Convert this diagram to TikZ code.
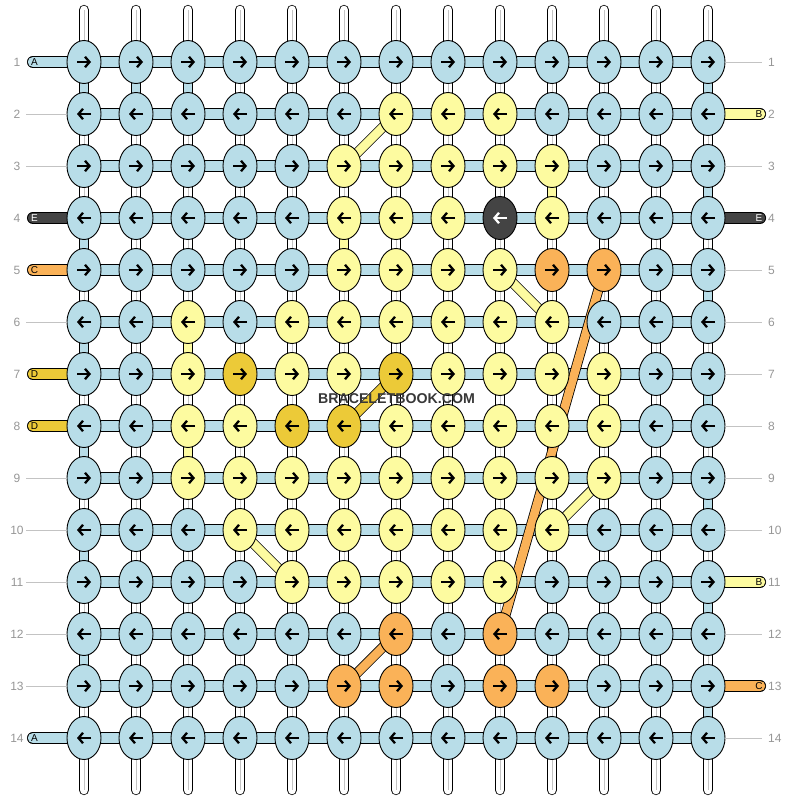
\documentclass[tikz,border=0pt]{standalone}
\usepackage{fontspec}
\setmainfont{Liberation Sans}
\usetikzlibrary{shapes,arrows.meta,positioning,calc}
\pgfdeclarelayer{bg}
\pgfsetlayers{bg,main}

\definecolor{threadA}{RGB}{184,221,232}
\definecolor{threadB}{RGB}{253,251,160}
\definecolor{threadC}{RGB}{250,178,88}
\definecolor{threadD}{RGB}{236,202,56}
\definecolor{threadE}{RGB}{68,68,68}
\definecolor{rulegrey}{RGB}{195,195,195}
\definecolor{numgrey}{RGB}{150,150,150}
\definecolor{brandgrey}{RGB}{55,55,55}

\tikzset{
  knot/.style = {ellipse, draw=black, line width=0.9pt, minimum width=34pt, minimum height=43pt, inner sep=0pt},
  knotA/.style = {fill=threadA, /utils/exec={\def\tipcol{black}}},
  knotB/.style = {fill=threadB, /utils/exec={\def\tipcol{black}}},
  knotC/.style = {fill=threadC, /utils/exec={\def\tipcol{black}}},
  knotD/.style = {fill=threadD, /utils/exec={\def\tipcol{black}}},
  knotE/.style = {fill=threadE, /utils/exec={\def\tipcol{white}}},
  tip/.style = {line width=2.3pt, color=\tipcol, -{Straight Barb[length=4.5pt,width=10.5pt]}},
  goright/.style = {path picture={\draw[tip] ([xshift=-7pt]path picture bounding box.center) -- ([xshift=7pt]path picture bounding box.center);}},
  goleft/.style = {path picture={\draw[tip] ([xshift=7pt]path picture bounding box.center) -- ([xshift=-7pt]path picture bounding box.center);}},
  warp/.style = {double=white, double distance=8.7pt, line width=0.8pt},
  post/.style = {double=#1, double distance=8.7pt, line width=0.8pt},
  band/.style = {double=#1, double distance=10.5pt, line width=0.8pt},
  slant/.style = {double=#1, double distance=8.5pt, line width=0.8pt},
  rule/.style = {draw=rulegrey, line width=0.8pt},
  rownum/.style = {text=numgrey, font=\fontsize{12}{12}\selectfont, inner sep=0pt},
  endtag/.style = {font=\fontsize{10}{10}\selectfont, inner sep=0pt},
}

\begin{document}
\begin{tikzpicture}[x=1pt, y=-1pt]
	\useasboundingbox (0,0) rectangle (792,800);

	% knots, row by row
	\foreach \r/\pat in {
		1/{A,A,A,A,A,A,A,A,A,A,A,A,A},
		2/{A,A,A,A,A,A,B,B,B,A,A,A,A},
		3/{A,A,A,A,A,B,B,B,B,B,A,A,A},
		4/{A,A,A,A,A,B,B,B,E,B,A,A,A},
		5/{A,A,A,A,A,B,B,B,B,C,C,A,A},
		6/{A,A,B,A,B,B,B,B,B,B,A,A,A},
		7/{A,A,B,D,B,B,D,B,B,B,B,A,A},
		8/{A,A,B,B,D,D,B,B,B,B,B,A,A},
		9/{A,A,B,B,B,B,B,B,B,B,B,A,A},
		10/{A,A,A,B,B,B,B,B,B,B,A,A,A},
		11/{A,A,A,A,B,B,B,B,B,A,A,A,A},
		12/{A,A,A,A,A,A,C,A,C,A,A,A,A},
		13/{A,A,A,A,A,C,C,A,C,C,A,A,A},
		14/{A,A,A,A,A,A,A,A,A,A,A,A,A}}{
		\ifodd\r \def\way{goright}\else \def\way{goleft}\fi
		\foreach \k [count=\c] in \pat {
			\node[knot, knot\k, \way] (k-\r-\c) at ({84+52*(\c-1)}, {62+52*(\r-1)}) {};
		}
	}

	\begin{pgfonlayer}{bg}
		% warp strings
		\foreach \c in {1,...,13}{
			\path (k-1-\c) ++(0,-52) coordinate (top-\c);
			\path (k-14-\c) ++(0,52) coordinate (bottom-\c);
			\draw[warp, line cap=round] (top-\c) -- (bottom-\c);
			\draw[rulegrey, line width=1pt] (top-\c) -- (bottom-\c);
		}

		% threads turning down between rows
		\foreach \ra/\rb/\c/\t in {1/2/1/A, 1/2/2/A, 1/2/3/A, 1/2/13/A, 3/4/13/A, 5/6/13/A, 7/8/13/A, 9/10/13/A, 11/12/13/A, 13/14/13/A,
			4/5/1/A, 6/7/1/A, 8/9/1/A, 10/11/1/A, 12/13/1/A,
			3/4/10/B, 4/5/6/B, 6/7/3/B, 7/8/11/B, 8/9/3/B}{
			\draw[post=thread\t] (k-\ra-\c.center) -- (k-\rb-\c.center);
		}

		% rows
		\foreach \r in {1,...,14}{
			\draw[band=threadA] (k-\r-1.center) -- (k-\r-13.center);
		}

		% threads running in and out at the sides
		\foreach \r/\t in {1/A, 4/E, 5/C, 7/D, 8/D, 14/A}{
			\path (k-\r-1) ++(-51,0) coordinate (in-\r);
			\draw[band=thread\t, line cap=round] (in-\r) -- (k-\r-1.center);
		}
		\foreach \r/\t in {2/B, 4/E, 11/B, 13/C}{
			\path (k-\r-13) ++(52,0) coordinate (out-\r);
			\draw[band=thread\t, line cap=round] (out-\r) -- (k-\r-13.center);
		}

		% threads crossing over
		\foreach \ra/\ca/\rb/\cb/\t in {2/7/3/6/B, 5/9/6/10/B, 9/11/10/10/B, 10/4/11/5/B,
			5/11/12/9/C, 12/7/13/6/C, 7/7/8/6/D}{
			\draw[slant=thread\t] (k-\ra-\ca.center) -- (k-\rb-\cb.center);
		}
	\end{pgfonlayer}

	% side labels
	\foreach \r in {2,3,6,9,10,11,12,13}{
		\path (k-\r-1) ++(-58,0) coordinate (lrule-\r);
		\draw[rule] (lrule-\r) -- (k-\r-1);
	}
	\foreach \r in {1,3,5,6,7,8,9,10,12,14}{
		\path (k-\r-13) ++(54,0) coordinate (rrule-\r);
		\draw[rule] (k-\r-13) -- (rrule-\r);
	}
	\foreach \r in {1,...,14}{
		\node[rownum] (lnum-\r) at ($(k-\r-1)+(-67,0)$) {\r};
		\node[rownum, anchor=west] (rnum-\r) at ($(k-\r-13)+(60,0)$) {\r};
	}
	\foreach \r/\t in {1/A, 5/C, 7/D, 8/D, 14/A}{
		\node[endtag] (tagl-\r) at ($(k-\r-1)+(-49.5,0)$) {\t};
	}
	\node[endtag, text=white] (tagl-4) at ($(k-4-1)+(-49.5,0)$) {E};
	\foreach \r/\t in {2/B, 11/B, 13/C}{
		\node[endtag] (tagr-\r) at ($(k-\r-13)+(51,0)$) {\t};
	}
	\node[endtag, text=white] (tagr-4) at ($(k-4-13)+(51,0)$) {E};

	\node[font=\bfseries\fontsize{14.2}{15}\selectfont, text=brandgrey] (brand) at (396.5,399) {BRACELETBOOK.COM};
\end{tikzpicture}
\end{document}
